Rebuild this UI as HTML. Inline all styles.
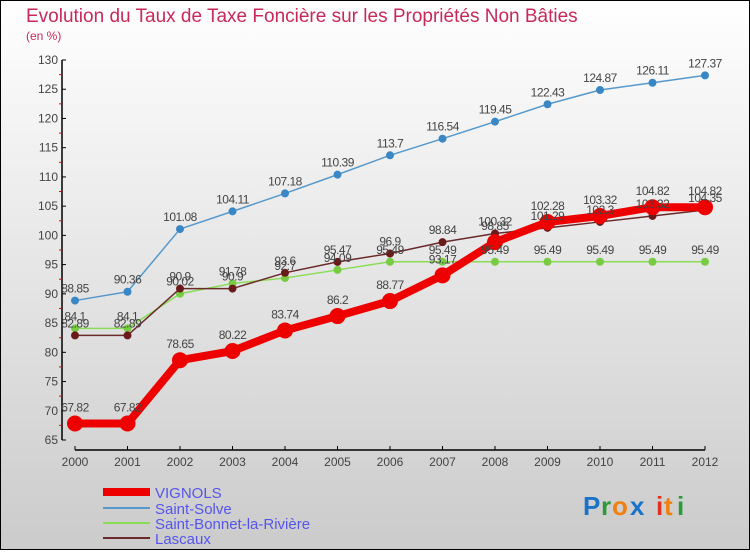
<!DOCTYPE html>
<html><head><meta charset="utf-8"><style>
body{margin:0}
svg text{font-family:"Liberation Sans",sans-serif}
</style></head><body>
<svg id="c" width="750" height="550" xmlns="http://www.w3.org/2000/svg">
<defs><linearGradient id="bg" x1="0" y1="0" x2="0" y2="1"><stop offset="0" stop-color="#ffffff"/><stop offset="1" stop-color="#cbcbcb"/></linearGradient></defs>
<rect x="0.5" y="0.5" width="749" height="549" fill="url(#bg)" stroke="#000"/>
<text x="26" y="22" font-size="19" fill="#c8285a">Evolution du Taux de Taxe Foncière sur les Propriétés Non Bâties</text>
<text x="26" y="40" font-size="12" fill="#c8285a">(en %)</text>
<g id="axes"></g><g id="series"></g><g id="labels"></g>
<g>
<line x1="103" y1="492" x2="150" y2="492" stroke="#ee0000" stroke-width="8"/><text x="155" y="498" font-size="15" fill="#5555ee">VIGNOLS</text>
<line x1="103" y1="508" x2="150" y2="508" stroke="#5599cc" stroke-width="2"/><text x="155" y="514" font-size="15" fill="#5555ee">Saint-Solve</text>
<line x1="103" y1="523" x2="150" y2="523" stroke="#88dd55" stroke-width="2"/><text x="155" y="529" font-size="15" fill="#5555ee">Saint-Bonnet-la-Rivière</text>
<line x1="103" y1="538" x2="150" y2="538" stroke="#6b2a2a" stroke-width="2"/><text x="155" y="544" font-size="15" fill="#5555ee">Lascaux</text>
</g>
<g font-size="26" font-weight="bold" font-family="Liberation Sans,sans-serif">
<text x="583" y="515" fill="#1a73c8">P</text><text x="601" y="515" fill="#2a9a3a">r</text><text x="612" y="515" fill="#f08010">o</text><text x="630" y="515" fill="#1a73c8">x</text><text x="656" y="515" fill="#e03020">i</text><text x="664" y="515" fill="#f08010">t</text><text x="677" y="515" fill="#2a9a3a">i</text>
</g>
</svg>
<script>
const years=[2000,2001,2002,2003,2004,2005,2006,2007,2008,2009,2010,2011,2012];
const vignols=[67.82,67.82,78.65,80.22,83.74,86.2,88.77,93.17,98.85,102.28,103.32,104.82,104.82];
const saintSolve=[88.85,90.36,101.08,104.11,107.18,110.39,113.7,116.54,119.45,122.43,124.87,126.11,127.37];
const saintBonnet=[84.1,84.1,90.02,91.78,92.7,94.09,95.49,95.49,95.49,95.49,95.49,95.49,95.49];
const lascaux=[82.89,82.89,90.9,90.9,93.6,95.47,96.9,98.84,100.32,101.29,102.3,103.32,104.35];
const yTicks=[65,70,75,80,85,90,95,100,105,110,115,120,125,130];
const NS="http://www.w3.org/2000/svg";
const X=i=>75+i*52.5;
const Y=v=>440-(v-65)*(380/65);
function mk(t,a,p){const e=document.createElementNS(NS,t);for(const k in a)e.setAttribute(k,a[k]);document.getElementById(p).appendChild(e);return e;}
let e=mk('line',{x1:62,y1:Y(130),x2:62,y2:Y(65),stroke:'#000','stroke-width':1.5},'axes');


e=mk('line',{x1:75,y1:450,x2:705,y2:450,stroke:'#000','stroke-width':1.5},'axes');


yTicks.forEach(v=>{
 mk('line',{x1:62,y1:Y(v),x2:66,y2:Y(v),stroke:'#000'},'axes');
 if(v<130)mk('line',{x1:59,y1:Y(v+2.5),x2:62,y2:Y(v+2.5),stroke:'#e00'},'axes');
 const t=mk('text',{x:58,y:Y(v)+4,'font-size':12,fill:'#444','text-anchor':'end'},'axes');t.textContent=v;
 
 
});
years.forEach((y,i)=>{
 mk('line',{x1:X(i),y1:446,x2:X(i),y2:450,stroke:'#000'},'axes');
 const t=mk('text',{x:X(i),y:466,'font-size':12,fill:'#444','text-anchor':'middle'},'axes');t.textContent=y;
 
 
});
function series(d,color,w,r,name,dot){
 const p=mk('polyline',{points:d.map((v,i)=>X(i)+','+Y(v)).join(' '),fill:'none',stroke:color,'stroke-width':w,'stroke-linejoin':'round'},'series');
 
 
 d.forEach((v,i)=>{
  const c=mk('circle',{cx:X(i),cy:Y(v),r:r,fill:dot||color},'series');
  
  
  const t=mk('text',{x:X(i),y:Y(v)-r-4,'font-size':12,fill:'#444','text-anchor':'middle','letter-spacing':'-0.5'},'labels');
  t.textContent=v;
  
  
 });
}
series(saintSolve,'#5599cc',1.5,4,'saint-solve','#3a87c6');
series(saintBonnet,'#88dd55',1.5,4,'saint-bonnet','#77cc44');
series(lascaux,'#6b2a2a',1.5,4,'lascaux','#6b1a1a');
series(vignols,'#ee0000',8,8,'vignols');
</script>
</body></html>
